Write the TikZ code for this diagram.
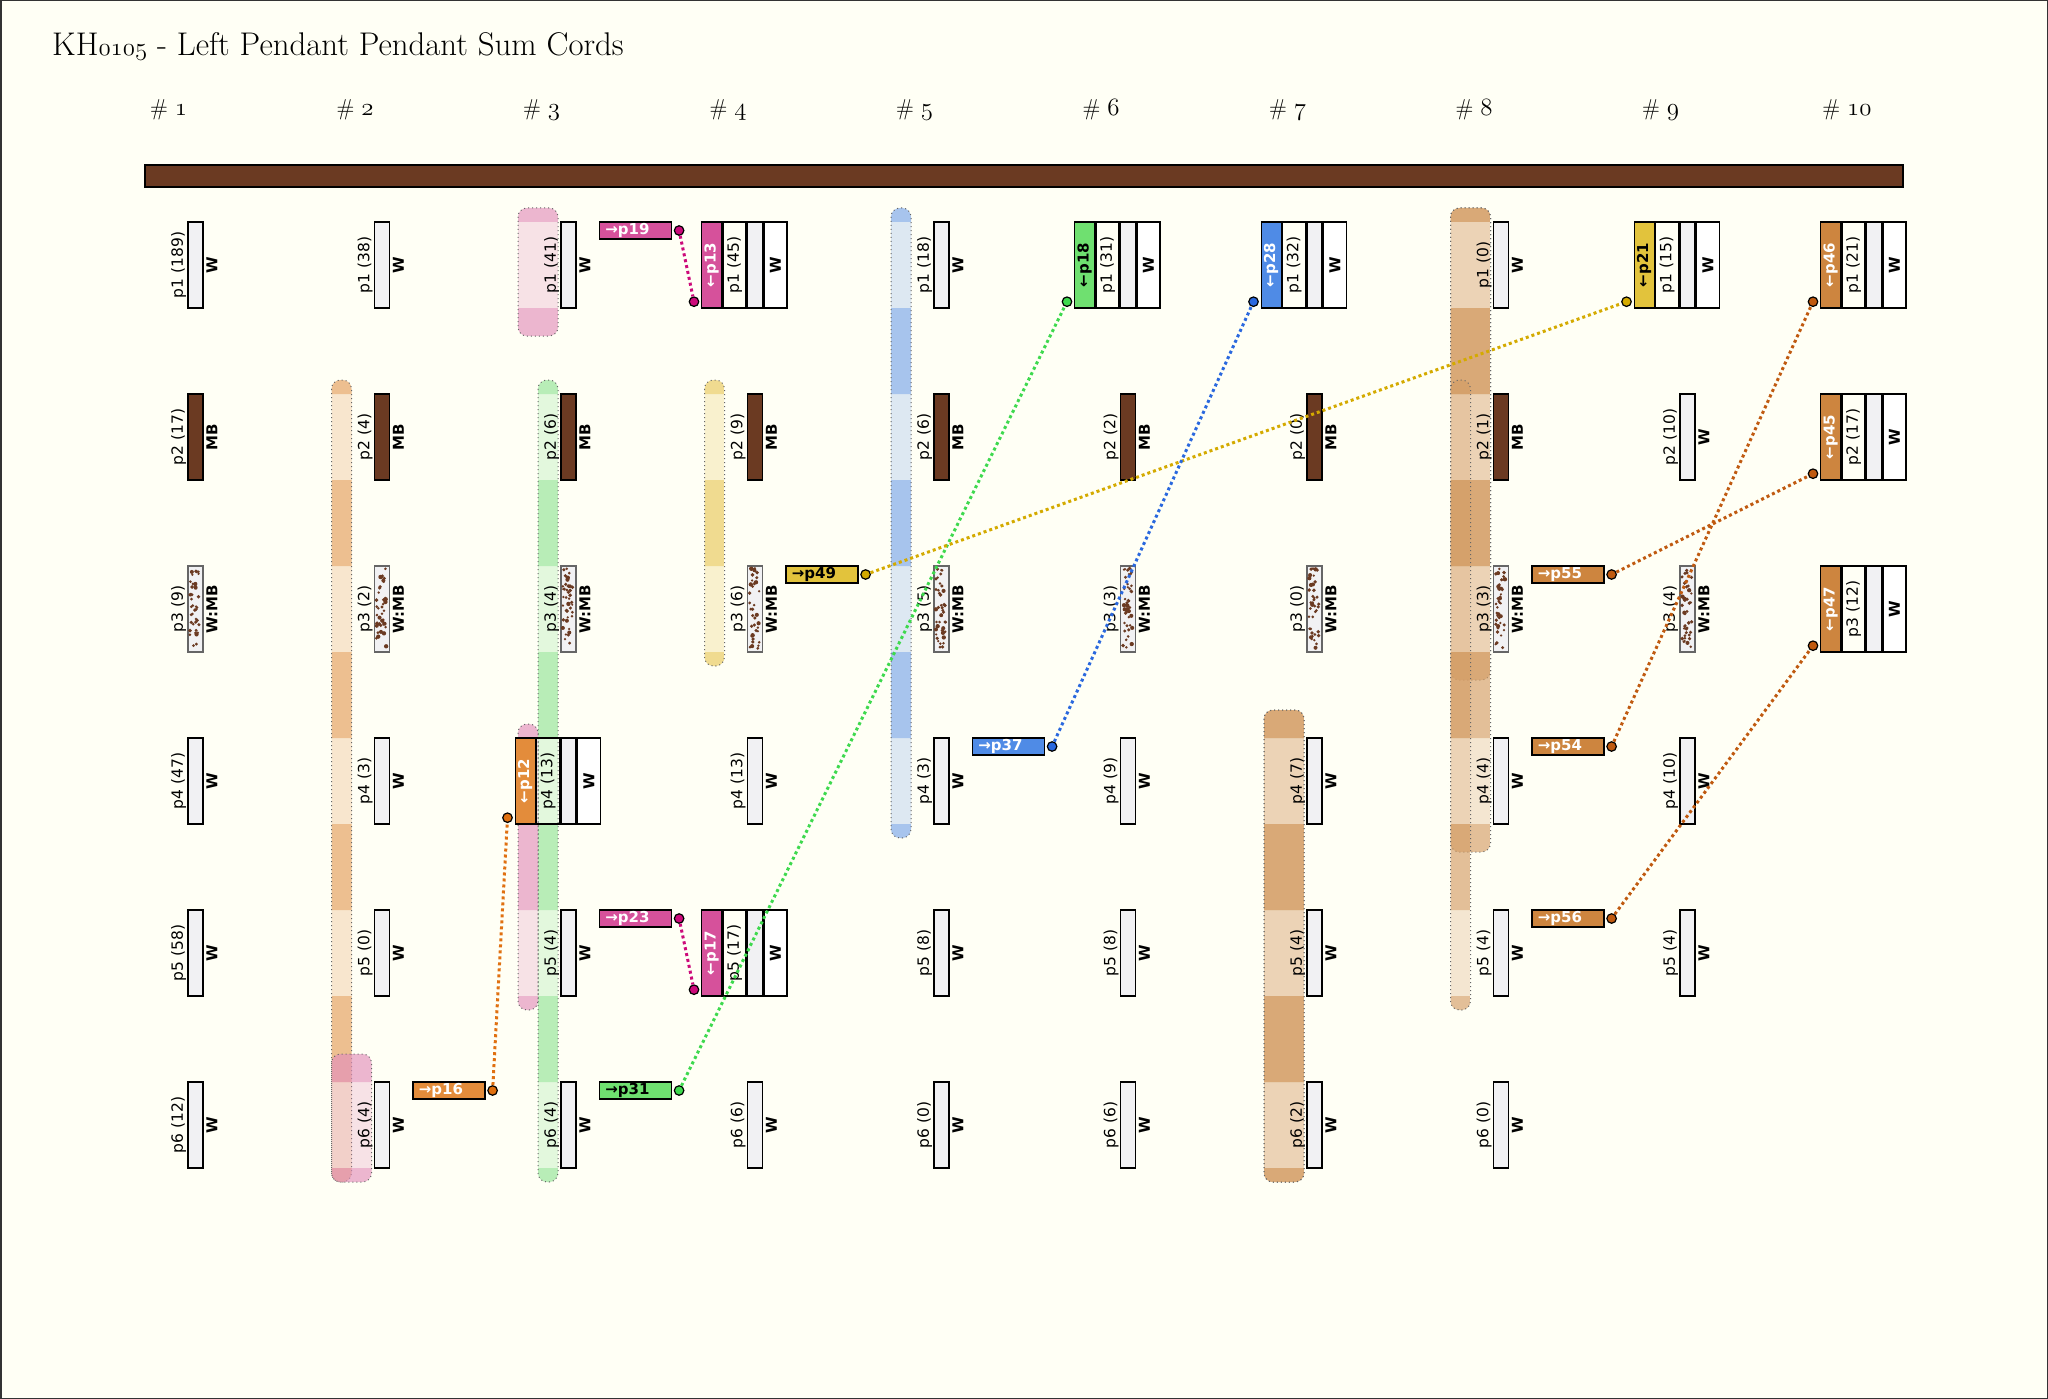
\documentclass[tikz,border=0pt]{standalone}
\usepackage{fontspec}
\newfontfamily\lblfont{DejaVu Sans}
\newcommand{\osn}[1]{{\usefont{OML}{lmm}{m}{it}#1}}

\definecolor{cream}{HTML}{FFFFF5}
\definecolor{cordgray}{HTML}{F1F1F3}
\definecolor{mbbrown}{HTML}{6B3A22}
\definecolor{magbox}{HTML}{D6519B}
\definecolor{magline}{HTML}{CC0A7A}
\definecolor{pinkband}{HTML}{E38FBC}
\definecolor{orabox}{HTML}{E38C3B}
\definecolor{oraline}{HTML}{E07010}
\definecolor{oraband}{HTML}{E59E5A}
\definecolor{grnbox}{HTML}{6FE070}
\definecolor{grnline}{HTML}{3ED94E}
\definecolor{grnband}{HTML}{92E597}
\definecolor{blubox}{HTML}{4F8BE6}
\definecolor{bluline}{HTML}{2A68DE}
\definecolor{bluband}{HTML}{78A4EA}
\definecolor{yelbox}{HTML}{E2C33C}
\definecolor{yelline}{HTML}{D4AA00}
\definecolor{yelband}{HTML}{E8C95A}
\definecolor{perbox}{HTML}{CD853F}
\definecolor{perline}{HTML}{C05A10}
\definecolor{perband}{HTML}{D59E66}

\tikzset{
  cord/.style={draw=black, line width=1.4pt, minimum width=15pt, minimum height=86pt, inner sep=0pt},
  cw/.style={fill=cordgray},
  cmb/.style={fill=mbbrown},
  cwmb/.style={fill=cordgray, draw=black!60},
  plabel/.style={rotate=90, anchor=south, inner sep=1pt, font=\lblfont\fontsize{15.5}{18}\selectfont},
  tlabel/.style={rotate=90, anchor=north, inner sep=2.5pt, font=\lblfont\bfseries\fontsize{15}{18}\selectfont},
  lblbox/.style={draw=black, line width=1.4pt, rotate=90, anchor=south, minimum width=86pt, minimum height=23pt, inner sep=1pt, font=\lblfont\fontsize{15.5}{18}\selectfont},
  wbox/.style={draw=black, line width=1.4pt, fill=white, rotate=90, anchor=north, minimum width=86pt, minimum height=23pt, inner sep=1pt, font=\lblfont\bfseries\fontsize{15}{18}\selectfont},
  destbox/.style={draw=black, line width=1.4pt, rotate=90, anchor=south, minimum width=86pt, minimum height=20pt, inner sep=1pt, font=\lblfont\bfseries\fontsize{15}{18}\selectfont},
  srcbox/.style={draw=black, line width=1.4pt, anchor=north west, text width=60pt, inner xsep=6pt, inner ysep=0pt, align=left, minimum height=17pt, font=\lblfont\bfseries\fontsize{15}{17}\selectfont},
  dot/.style={circle, draw=black, line width=1.2pt, minimum size=9.5pt, inner sep=0pt},
  link/.style={line width=3pt, dash pattern=on 3pt off 3pt},
  bandedge/.style={draw=black!60, line width=1pt, dash pattern=on 1pt off 3pt},
  hdr/.style={anchor=base, inner sep=0pt, font=\fontsize{23}{26}\selectfont},
}

\newcommand{\pendant}[6]{%
  \node[cord, #5] (#1) at ({195.5+186.5*(#2-1)},{265+172*(#3-1)}) {};
  \node[plabel] (#1p) at (#1.west) {#4};
  \node[tlabel] (#1t) at (#1.east) {#6};
}
\newcommand{\sumpendant}[8]{%
  \node[cord, cw] (#1) at ({195.5+186.5*(#2-1)},{265+172*(#3-1)}) {};
  \node[lblbox] (#1p) at (#1.west) {#4};
  \node[destbox, fill=#6, text=#7] (#1d) at (#1p.north) {#5};
  \node[wbox] (#1t) at (#1.east) {W};
  \node[dot, fill=#8] (#1i) at ([xshift=-7pt,yshift=7pt]#1d.north west) {};
}
\newcommand{\srcpendant}[5]{%
  \node[srcbox, fill=#3, text=#4] (#1s) at ([xshift=22pt]#1.north east) {#2};
  \node[dot, fill=#5] (#1o) at ([xshift=7pt]#1s.east) {};
}
\newcommand{\speckle}[1]{%
  \foreach \i in {1,...,40}{%
    \pgfmathsetmacro{\dx}{2.5+10*rnd}%
    \pgfmathsetmacro{\dy}{3+80*rnd}%
    \pgfmathsetmacro{\dr}{1.2+1*rnd}%
    \fill[mbbrown] ([shift={(\dx,\dy)}]#1.north west) circle (\dr pt);
  }%
}
\newcommand{\band}[8]{%
  \pgfmathsetmacro{\bxa}{188+186.5*(#1-1)+#2}%
  \pgfmathsetmacro{\bxb}{188+186.5*(#1-1)+#3}%
  \pgfmathsetmacro{\bya}{222+172*(#4-1)-#6}%
  \pgfmathsetmacro{\byb}{308+172*(#5-1)+#7}%
  \begin{scope}
    \clip[rounded corners=9pt] (\bxa,\bya) rectangle (\bxb,\byb);
    \fill[#8, fill opacity=0.25] (\bxa,\bya) rectangle (\bxb,\byb);
    \fill[#8, fill opacity=0.53, even odd rule] (\bxa,\bya) rectangle (\bxb,\byb)
      \foreach \r in {#4,...,#5}{({\bxa},{222+172*(\r-1)}) rectangle ({\bxb},{308+172*(\r-1)})};
  \end{scope}
  \draw[bandedge, rounded corners=9pt] (\bxa,\bya) rectangle (\bxb,\byb);
}

\begin{document}
\begin{tikzpicture}[x=1pt, y=-1pt]
\pgfmathsetseed{11}
\useasboundingbox (0,0) rectangle (2048,1399);
\fill[cream] (0,0) rectangle (2048,1399);
\draw[black!80, line width=1.5pt] (0.75,0.75) rectangle (2047.25,1398.25);

\node[anchor=base west, inner sep=0pt, font=\fontsize{32.8}{38}\selectfont] (title) at (52,56) {KH\osn{0105} - Left Pendant Pendant Sum Cords};

\node[hdr] (h1) at (168.5,116) {\# \osn{1}};
\node[hdr] (h2) at (355,116) {\# \osn{2}};
\node[hdr] (h3) at (541.5,116) {\# \osn{3}};
\node[hdr] (h4) at (728,116) {\# \osn{4}};
\node[hdr] (h5) at (914.5,116) {\# \osn{5}};
\node[hdr] (h6) at (1101,116) {\# \osn{6}};
\node[hdr] (h7) at (1287.5,116) {\# \osn{7}};
\node[hdr] (h8) at (1474,116) {\# \osn{8}};
\node[hdr] (h9) at (1660.5,116) {\# \osn{9}};
\node[hdr] (h10) at (1847,116) {\# \osn{10}};

\node[draw=black, line width=1.8pt, fill=mbbrown, minimum width=1758pt, minimum height=22pt, inner sep=0pt] (bar) at (1024,176) {};

\band{2}{-43}{-23}{2}{6}{14}{14}{oraband}
\band{2}{-43}{-3}{6}{6}{28}{14}{pinkband}
\band{3}{-43}{-3}{1}{1}{14}{28}{pinkband}
\band{3}{-23}{-3}{2}{6}{14}{14}{grnband}
\band{3}{-43}{-23}{4}{5}{14}{14}{pinkband}
\band{4}{-43}{-23}{2}{3}{14}{14}{yelband}
\band{5}{-43}{-23}{1}{4}{14}{14}{bluband}
\band{7}{-43}{-3}{4}{6}{28}{14}{perband}
\band{7}{-43}{-3}{4}{6}{28}{14}{perband}
\band{8}{-43}{-3}{1}{3}{14}{28}{perband}
\band{8}{-43}{-3}{1}{4}{14}{28}{perband}
\band{8}{-43}{-23}{2}{5}{14}{14}{perband}

\pendant{c1r1}{1}{1}{p1 (189)}{cw}{W}
\pendant{c1r2}{1}{2}{p2 (17)}{cmb}{MB}
\pendant{c1r3}{1}{3}{p3 (9)}{cwmb}{W:MB}
\pendant{c1r4}{1}{4}{p4 (47)}{cw}{W}
\pendant{c1r5}{1}{5}{p5 (58)}{cw}{W}
\pendant{c1r6}{1}{6}{p6 (12)}{cw}{W}

\pendant{c2r1}{2}{1}{p1 (38)}{cw}{W}
\pendant{c2r2}{2}{2}{p2 (4)}{cmb}{MB}
\pendant{c2r3}{2}{3}{p3 (2)}{cwmb}{W:MB}
\pendant{c2r4}{2}{4}{p4 (3)}{cw}{W}
\pendant{c2r5}{2}{5}{p5 (0)}{cw}{W}
\pendant{c2r6}{2}{6}{p6 (4)}{cw}{W}

\pendant{c3r1}{3}{1}{p1 (41)}{cw}{W}
\pendant{c3r2}{3}{2}{p2 (6)}{cmb}{MB}
\pendant{c3r3}{3}{3}{p3 (4)}{cwmb}{W:MB}
\sumpendant{c3r4}{3}{4}{p4 (13)}{←p12}{orabox}{white}{oraline}
\pendant{c3r5}{3}{5}{p5 (4)}{cw}{W}
\pendant{c3r6}{3}{6}{p6 (4)}{cw}{W}

\sumpendant{c4r1}{4}{1}{p1 (45)}{←p13}{magbox}{white}{magline}
\pendant{c4r2}{4}{2}{p2 (9)}{cmb}{MB}
\pendant{c4r3}{4}{3}{p3 (6)}{cwmb}{W:MB}
\pendant{c4r4}{4}{4}{p4 (13)}{cw}{W}
\sumpendant{c4r5}{4}{5}{p5 (17)}{←p17}{magbox}{white}{magline}
\pendant{c4r6}{4}{6}{p6 (6)}{cw}{W}

\pendant{c5r1}{5}{1}{p1 (18)}{cw}{W}
\pendant{c5r2}{5}{2}{p2 (6)}{cmb}{MB}
\pendant{c5r3}{5}{3}{p3 (5)}{cwmb}{W:MB}
\pendant{c5r4}{5}{4}{p4 (3)}{cw}{W}
\pendant{c5r5}{5}{5}{p5 (8)}{cw}{W}
\pendant{c5r6}{5}{6}{p6 (0)}{cw}{W}

\sumpendant{c6r1}{6}{1}{p1 (31)}{←p18}{grnbox}{black}{grnline}
\pendant{c6r2}{6}{2}{p2 (2)}{cmb}{MB}
\pendant{c6r3}{6}{3}{p3 (3)}{cwmb}{W:MB}
\pendant{c6r4}{6}{4}{p4 (9)}{cw}{W}
\pendant{c6r5}{6}{5}{p5 (8)}{cw}{W}
\pendant{c6r6}{6}{6}{p6 (6)}{cw}{W}

\sumpendant{c7r1}{7}{1}{p1 (32)}{←p28}{blubox}{white}{bluline}
\pendant{c7r2}{7}{2}{p2 (0)}{cmb}{MB}
\pendant{c7r3}{7}{3}{p3 (0)}{cwmb}{W:MB}
\pendant{c7r4}{7}{4}{p4 (7)}{cw}{W}
\pendant{c7r5}{7}{5}{p5 (4)}{cw}{W}
\pendant{c7r6}{7}{6}{p6 (2)}{cw}{W}

\pendant{c8r1}{8}{1}{p1 (0)}{cw}{W}
\pendant{c8r2}{8}{2}{p2 (1)}{cmb}{MB}
\pendant{c8r3}{8}{3}{p3 (3)}{cwmb}{W:MB}
\pendant{c8r4}{8}{4}{p4 (4)}{cw}{W}
\pendant{c8r5}{8}{5}{p5 (4)}{cw}{W}
\pendant{c8r6}{8}{6}{p6 (0)}{cw}{W}

\sumpendant{c9r1}{9}{1}{p1 (15)}{←p21}{yelbox}{black}{yelline}
\pendant{c9r2}{9}{2}{p2 (10)}{cw}{W}
\pendant{c9r3}{9}{3}{p3 (4)}{cwmb}{W:MB}
\pendant{c9r4}{9}{4}{p4 (10)}{cw}{W}
\pendant{c9r5}{9}{5}{p5 (4)}{cw}{W}

\sumpendant{c10r1}{10}{1}{p1 (21)}{←p46}{perbox}{white}{perline}
\sumpendant{c10r2}{10}{2}{p2 (17)}{←p45}{perbox}{white}{perline}
\sumpendant{c10r3}{10}{3}{p3 (12)}{←p47}{perbox}{white}{perline}

\speckle{c1r3}
\speckle{c2r3}
\speckle{c3r3}
\speckle{c4r3}
\speckle{c5r3}
\speckle{c6r3}
\speckle{c7r3}
\speckle{c8r3}
\speckle{c9r3}

\srcpendant{c3r1}{→p19}{magbox}{white}{magline}
\srcpendant{c3r5}{→p23}{magbox}{white}{magline}
\srcpendant{c2r6}{→p16}{orabox}{white}{oraline}
\srcpendant{c3r6}{→p31}{grnbox}{black}{grnline}
\srcpendant{c4r3}{→p49}{yelbox}{black}{yelline}
\srcpendant{c5r4}{→p37}{blubox}{white}{bluline}
\srcpendant{c8r3}{→p55}{perbox}{white}{perline}
\srcpendant{c8r4}{→p54}{perbox}{white}{perline}
\srcpendant{c8r5}{→p56}{perbox}{white}{perline}

\draw[link, magline] (c3r1o) -- (c4r1i);
\draw[link, magline] (c3r5o) -- (c4r5i);
\draw[link, oraline] (c2r6o) -- (c3r4i);
\draw[link, grnline] (c3r6o) -- (c6r1i);
\draw[link, yelline] (c4r3o) -- (c9r1i);
\draw[link, bluline] (c5r4o) -- (c7r1i);
\draw[link, perline] (c8r3o) -- (c10r2i);
\draw[link, perline] (c8r4o) -- (c10r1i);
\draw[link, perline] (c8r5o) -- (c10r3i);
\end{tikzpicture}
\end{document}
